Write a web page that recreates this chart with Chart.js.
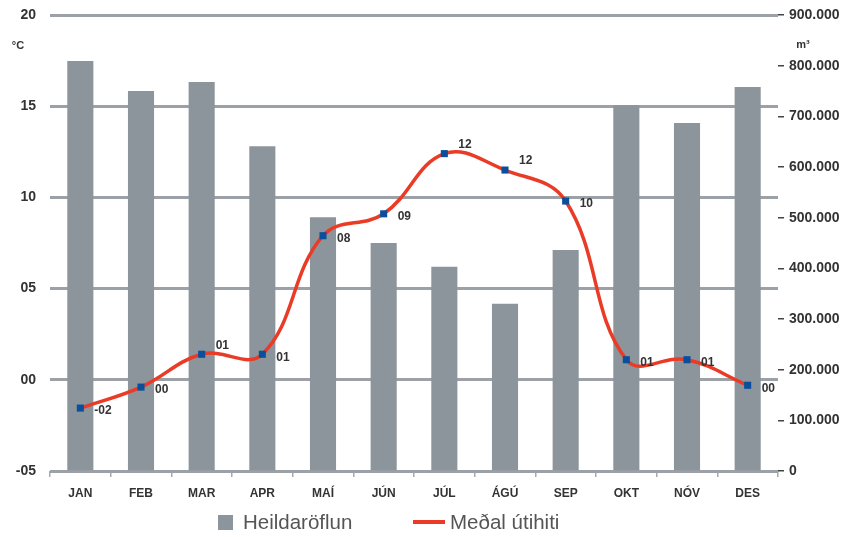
<!DOCTYPE html>
<html lang="is">
<head>
  <meta charset="UTF-8" />
  <title>Heildaröflun og meðal útihiti</title>
  <script src="https://cdn.jsdelivr.net/npm/chart.js"></script>
  <style>
    html, body { margin: 0; padding: 0; background: #fff; }
    #wrap { width: 843px; height: 537px; }
  </style>
</head>
<body>
  <div id="wrap"><canvas id="chart" width="843" height="537"></canvas></div>

  <script>
    // data
    const months = ['JAN', 'FEB', 'MAR', 'APR', 'MAÍ', 'JÚN', 'JÚL', 'ÁGÚ', 'SEP', 'OKT', 'NÓV', 'DES'];
    const totalFlow = [809000, 750000, 768000, 641000, 501000, 450000, 403000, 330000, 436000, 722000, 687000, 758000];
    const avgTemp = [-1.55, -0.4, 1.4, 1.4, 7.9, 9.1, 12.4, 11.5, 9.8, 1.1, 1.1, -0.3];
    const tempTicks = ['-05', '00', '05', '10', '15', '20'];
    const flowTicks = ['0', '100.000', '200.000', '300.000', '400.000', '500.000', '600.000', '700.000', '800.000', '900.000'];

    const font = '"Liberation Sans", Arial, sans-serif';
    const txt = '#333333';
    const barGrey = '#8c959c';
    const red = '#ea3b26';

    function twoDigits(v) {
      const r = Math.round(v);
      const s = String(Math.abs(r)).padStart(2, '0');
      return r < 0 ? '-' + s : s;
    }

    // point labels, unit labels and the legend along the bottom
    const extras = {
      id: 'extras',
      afterDatasetsDraw(chart, args, opts) {
        const ctx = chart.ctx;
        const meta = chart.getDatasetMeta(1);
        ctx.save();
        ctx.font = 'bold 12px ' + font;
        ctx.fillStyle = txt;
        ctx.textAlign = 'left';
        ctx.textBaseline = 'middle';
        meta.data.forEach((pt, i) => {
          const above = opts.above.includes(i);
          ctx.fillText(twoDigits(avgTemp[i]), pt.x + 14, pt.y + (above ? -9 : 3));
        });
        ctx.font = 'bold 11px ' + font;
        ctx.textAlign = 'center';
        ctx.fillText('°C', 18, 46);
        ctx.fillText('m³', 803, 45);

        // legend
        const ds = chart.data.datasets;
        const ly = 522;
        ctx.font = '20.5px ' + font;
        ctx.textAlign = 'left';
        ctx.fillStyle = ds[0].backgroundColor;
        ctx.fillRect(218, ly - 7, 15, 15);
        ctx.fillStyle = '#555555';
        ctx.fillText(ds[0].label, 243, ly + 1);
        ctx.strokeStyle = ds[1].borderColor;
        ctx.lineWidth = 4;
        ctx.beginPath();
        ctx.moveTo(413, ly);
        ctx.lineTo(445, ly);
        ctx.stroke();
        ctx.fillText(ds[1].label, 450, ly + 1);
        ctx.restore();
      }
    };

    new Chart(document.getElementById('chart'), {
      data: {
        labels: months,
        datasets: [{
          type: 'bar',
          label: 'Heildaröflun',
          data: totalFlow,
          yAxisID: 'y2',
          backgroundColor: barGrey,
          barPercentage: 0.43,
          categoryPercentage: 1,
          order: 2
        }, {
          type: 'line',
          label: 'Meðal útihiti',
          data: avgTemp,
          yAxisID: 'y',
          borderColor: red,
          borderWidth: 3.5,
          tension: 0.4,
          pointStyle: 'rect',
          pointRadius: 5,
          pointBackgroundColor: '#0a4f9c',
          pointBorderWidth: 0,
          order: 1
        }]
      },
      options: {
        responsive: false,
        animation: false,
        layout: { padding: { top: 15, bottom: 31, left: 0, right: 0 } },
        plugins: {
          tooltip: { enabled: false },
          legend: { display: false },
          extras: { above: [2, 6, 7] }
        },
        scales: {
          x: {
            grid: { offset: true, drawOnChartArea: false, drawTicks: true, tickLength: 6, color: '#a4aaae', lineWidth: 1.5 },
            border: { display: false },
            ticks: { color: txt, padding: 9, font: { family: font, size: 12, weight: 'bold' } },
            afterFit: s => { s.height = 35; s.paddingLeft = 0; s.paddingRight = 0; }
          },
          y: {
            position: 'left',
            min: -5, max: 20,
            ticks: {
              stepSize: 5, padding: 14, color: txt,
              font: { family: font, size: 14, weight: 'bold' },
              callback: (v, i) => tempTicks[i]
            },
            grid: { drawTicks: false, color: '#9ba1a6', lineWidth: 3 },
            border: { display: false },
            afterFit: s => { s.width = 50; s.paddingTop = 0; s.paddingBottom = 0; }
          },
          y2: {
            position: 'right',
            min: 0, max: 900000,
            ticks: {
              stepSize: 100000, padding: 5, color: txt,
              font: { family: font, size: 14, weight: 'bold' },
              callback: (v, i) => flowTicks[i]
            },
            grid: { drawOnChartArea: false, drawTicks: true, tickLength: 6, color: '#444444', lineWidth: 1.5 },
            border: { display: false },
            afterFit: s => { s.width = 65; s.paddingTop = 0; s.paddingBottom = 0; }
          }
        }
      },
      plugins: [extras]
    });
  </script>
</body>
</html>
